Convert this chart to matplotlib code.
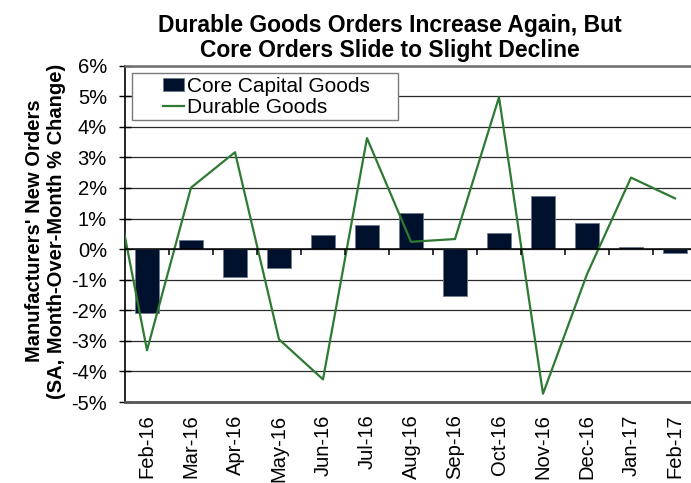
import numpy as np
import matplotlib
matplotlib.use("Agg")
import matplotlib.pyplot as plt
from matplotlib.patches import Rectangle

plt.rcParams["font.family"] = ["Liberation Sans", "DejaVu Sans"]

# data
months = ["Feb-16", "Mar-16", "Apr-16", "May-16", "Jun-16", "Jul-16", "Aug-16",
          "Sep-16", "Oct-16", "Nov-16", "Dec-16", "Jan-17", "Feb-17"]
core_capital = [-2.09, 0.30, -0.90, -0.63, 0.46, 0.80, 1.18,
                -1.53, 0.52, 1.73, 0.84, 0.08, -0.14]
# Jan-16 sits left of the plot and is clipped
durable_prev = 4.1
durable = [-3.31, 2.01, 3.17, -2.95, -4.26, 3.63, 0.24,
           0.33, 4.97, -4.73, -0.82, 2.34, 1.66]
yticks = np.arange(-5, 7, 1)

W, H = 691, 483
fig = plt.figure(figsize=(W / 100, H / 100), dpi=100)
# axes right edge runs slightly past the image, as in the reference
ax = fig.add_axes([125 / W, 1 - 402 / H, 572 / W, (402 - 65.7) / H])

x = np.arange(len(months))
bars = ax.bar(x, core_capital, width=0.55, color="#00112e", edgecolor="#6d7a8c",
              lw=0.6, zorder=3, label="Core Capital Goods")
line, = ax.plot(np.concatenate([[-1], x]), [durable_prev] + durable, color="#2e7a33",
                lw=1.6, zorder=4, label="Durable Goods")

ax.set_xlim(-0.5, len(months) - 0.5)
ax.set_ylim(-5, 6)
ax.set_yticks(yticks)
ax.set_yticklabels([f"{v}%" for v in yticks])
ax.yaxis.grid(True, color="#2b2b2b", lw=0.9)
ax.set_axisbelow(True)
ax.axhline(0, color="black", lw=1.1, zorder=5)
ax.vlines(np.arange(0.5, len(months) - 1, 1), -0.2, 0, color="black", lw=1.1, zorder=5)

ax.set_xticks(x)
ax.set_xticklabels(months, rotation=90)
ax.tick_params(axis="x", length=0, pad=9, labelsize=14.5)
ax.tick_params(axis="y", direction="inout", length=8, width=1, pad=9, labelsize=14.5)

ax.spines["right"].set_visible(False)
ax.spines["left"].set_color("black")
ax.spines["left"].set_linewidth(1.2)
ax.spines["top"].set_color("#6e6e6e")
ax.spines["top"].set_linewidth(1.8)
ax.spines["bottom"].set_color("#555555")
ax.spines["bottom"].set_linewidth(2)

# legend with framed box
ax.add_patch(Rectangle((6.7 / 572, 1 - (120 - 65.7) / 336.3), 266 / 572, 46.7 / 336.3,
                       transform=ax.transAxes, facecolor="white", edgecolor="#7a7a7a",
                       lw=1, zorder=6))
leg = ax.legend([bars, line], ["Core Capital Goods", "Durable Goods"],
                loc="upper left", bbox_to_anchor=((163 - 125) / 572, 1 - (77 - 65.7) / 336.3),
                frameon=False, fontsize=15, borderpad=0, borderaxespad=0,
                handlelength=1.0, handleheight=0.55, handletextpad=0.15, labelspacing=0.08)
leg.set_zorder(7)

fig.text(46 / W, 1 - 231 / H, "Manufacturers' New Orders\n(SA, Month-Over-Month % Change)",
         rotation=90, ha="center", va="center", fontsize=14.5, fontweight="bold",
         multialignment="center")
fig.text(390 / W, 1 - 14 / H, "Durable Goods Orders Increase Again, But\nCore Orders Slide to Slight Decline",
         ha="center", va="top", fontsize=16.5, fontweight="bold", linespacing=1.1)

fig.savefig("out.png", dpi=100)
